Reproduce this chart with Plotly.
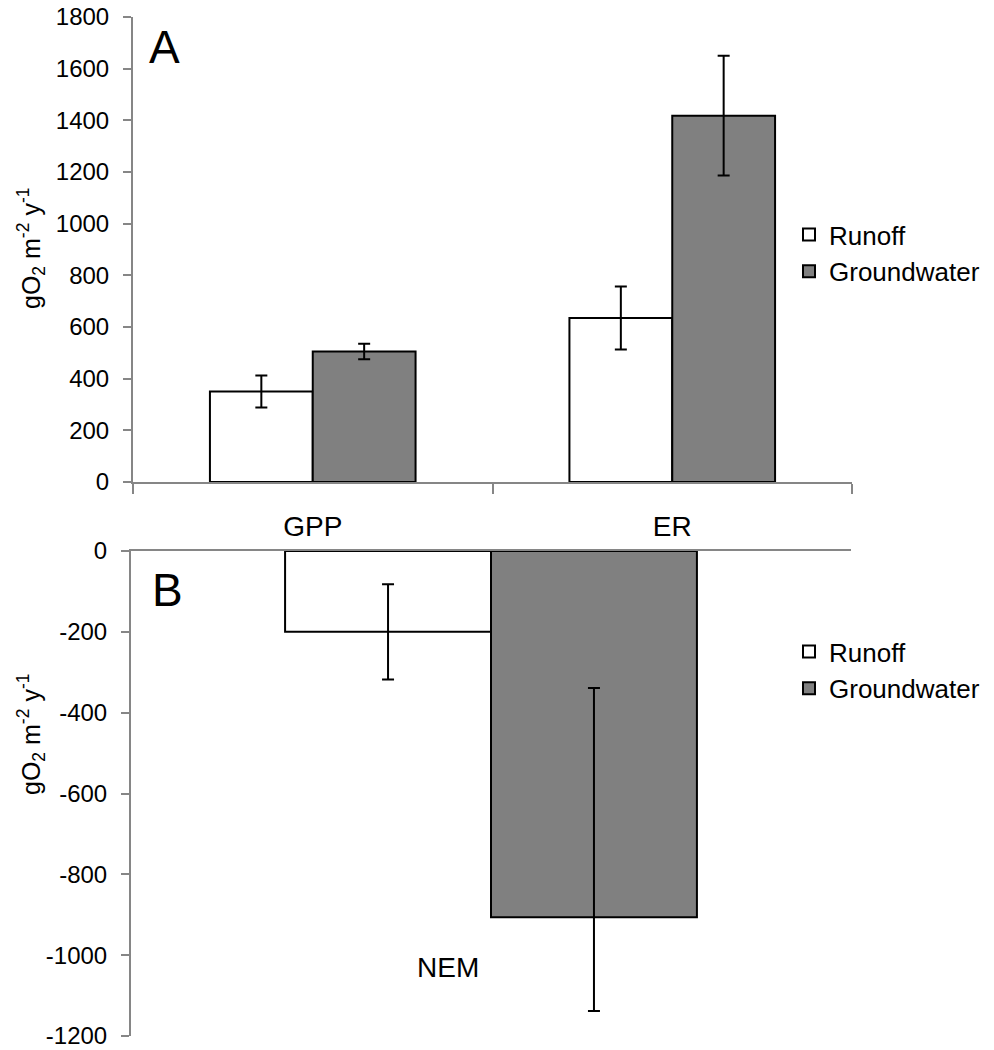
import plotly.graph_objects as go

# ---- data ----
cats_a = ["GPP", "ER"]
runoff_a = [350, 635]
runoff_a_err = [62, 122]
ground_a = [505, 1418]
ground_a_err = [30, 232]

cats_b = ["NEM"]
runoff_b = [-200]
runoff_b_err = [118]
ground_b = [-906]
ground_b_err_plus = [567]
ground_b_err_minus = [232]

yticks_a = list(range(0, 1801, 200))
yticks_b = list(range(-1200, 1, 200))
yticks_a_text = [str(v) for v in yticks_a]
yticks_b_text = [str(v) for v in yticks_b]

W, H = 994, 1050
FONT = "Liberation Sans, Arial, sans-serif"
AXC = "#868686"

def px_x(p):
    return p / W

def px_y(p):
    return 1 - p / H

fig = go.Figure()

eb = dict(type="data", color="black", thickness=2, width=6)

fig.add_trace(go.Bar(x=cats_a, y=runoff_a, name="Runoff",
                     marker=dict(color="white", line=dict(color="black", width=2)),
                     error_y=dict(array=runoff_a_err, **eb),
                     xaxis="x", yaxis="y", legend="legend"))
fig.add_trace(go.Bar(x=cats_a, y=ground_a, name="Groundwater",
                     marker=dict(color="#808080", line=dict(color="black", width=2)),
                     error_y=dict(array=ground_a_err, **eb),
                     xaxis="x", yaxis="y", legend="legend"))

fig.add_trace(go.Bar(x=cats_b, y=runoff_b, name="Runoff",
                     marker=dict(color="white", line=dict(color="black", width=2)),
                     error_y=dict(array=runoff_b_err, **eb),
                     xaxis="x2", yaxis="y2", legend="legend2"))
fig.add_trace(go.Bar(x=cats_b, y=ground_b, name="Groundwater",
                     marker=dict(color="#808080", line=dict(color="black", width=2)),
                     error_y=dict(array=ground_b_err_plus, arrayminus=ground_b_err_minus,
                                  symmetric=False, **eb),
                     xaxis="x2", yaxis="y2", legend="legend2"))

axis_common = dict(showgrid=False, zeroline=False, showline=True,
                   linecolor=AXC, linewidth=2, tickcolor=AXC, tickwidth=1.5)

legend_common = dict(bgcolor="rgba(0,0,0,0)", borderwidth=0,
                     font=dict(family=FONT, size=26, color="black"),
                     itemwidth=30, tracegroupgap=0,
                     xanchor="left", yanchor="middle", traceorder="normal")

fig.update_layout(
    width=W, height=H,
    margin=dict(l=0, r=0, t=0, b=0, autoexpand=False),
    paper_bgcolor="white", plot_bgcolor="white",
    font=dict(family=FONT, size=24, color="black"),
    barmode="group", bargap=0.428, bargroupgap=0,
    showlegend=True,
    xaxis=dict(domain=[px_x(133), px_x(852)], anchor="y", type="category",
               range=[-0.5, 1.5], tickson="boundaries", ticks="outside", ticklen=10,
               ticklabelstandoff=18, tickfont=dict(size=28), **axis_common),
    yaxis=dict(domain=[px_y(482), px_y(17)], anchor="x", range=[0, 1800],
               tickvals=yticks_a, ticktext=yticks_a_text, ticks="outside", ticklen=8,
               ticklabelstandoff=9, tickfont=dict(size=24), **axis_common),
    xaxis2=dict(domain=[px_x(131), px_x(851)], anchor="y2", type="category", side="top",
                range=[-0.5, 0.5], tickson="boundaries", ticks="inside", ticklen=10,
                showticklabels=False, **axis_common),
    yaxis2=dict(domain=[px_y(1036), px_y(551)], anchor="x2", range=[-1200, 0],
                tickvals=yticks_b, ticktext=yticks_b_text, ticks="outside", ticklen=8,
                ticklabelstandoff=9, tickfont=dict(size=24), **axis_common),
    legend=dict(x=px_x(789), y=px_y(253), **legend_common),
    legend2=dict(x=px_x(789), y=px_y(670), **legend_common),
    annotations=[
        dict(text="A", x=px_x(147), y=px_y(47), xref="paper", yref="paper",
             xanchor="left", yanchor="middle", showarrow=False, font=dict(size=46)),
        dict(text="B", x=px_x(150), y=px_y(590), xref="paper", yref="paper",
             xanchor="left", yanchor="middle", showarrow=False, font=dict(size=46)),
        dict(text="NEM", x=px_x(448), y=px_y(967), xref="paper", yref="paper",
             xanchor="center", yanchor="middle", showarrow=False, font=dict(size=28)),
        dict(text="gO<sub>2</sub> m<sup>-2</sup> y<sup>-1</sup>", x=px_x(31), y=px_y(249),
             xref="paper", yref="paper", textangle=-90, xanchor="center", yanchor="middle",
             showarrow=False, font=dict(size=25)),
        dict(text="gO<sub>2</sub> m<sup>-2</sup> y<sup>-1</sup>", x=px_x(31), y=px_y(735),
             xref="paper", yref="paper", textangle=-90, xanchor="center", yanchor="middle",
             showarrow=False, font=dict(size=25)),
    ],
)

fig.write_html("out.html")
